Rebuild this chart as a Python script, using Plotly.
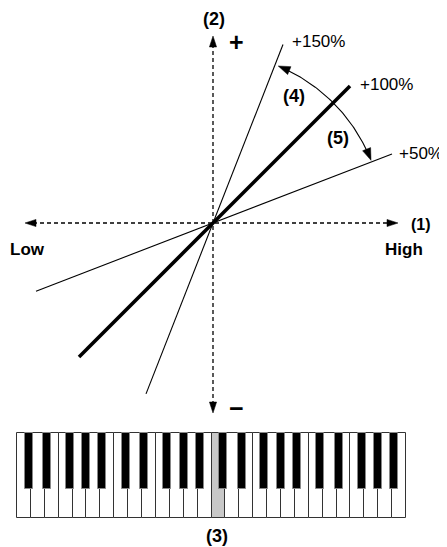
import numpy as np
import plotly.graph_objects as go

# pitch tracking lines (origin = centre of the diagram, 1 unit = 1 px, y up)
track_labels = ["+150%", "+100%", "+50%"]
track_slopes = [2.55, 1.0, 0.385]
track_x_lo = [-67, -134, -177]
track_x_hi = [70, 137, 179]
track_widths = [1.1, 3.6, 1.1]

# keyboard: 4 octaves of white keys, black key offsets from the key boundary
white_notes = list("CDEFGAB") * 4
black_after = [1, 2, 4, 5, 6]          # black key sits after these white keys (per octave)
black_shift = [-2.3, 2.3, -2.7, 0.0, 2.0]
highlight_key = 14                      # middle C

KB_LEFT, KB_TOP, KB_BOTTOM, BLACK_BOTTOM = -196, -210, -295, -266
WHITE_W = 389 / 28
BLACK_W = 8

fig = go.Figure()

# dashed axes
fig.add_trace(go.Scatter(x=[-180, 178], y=[0, 0], mode="lines",
                         line=dict(color="black", width=1.3, dash="4px,3px")))
fig.add_trace(go.Scatter(x=[0, 0], y=[179, -182], mode="lines",
                         line=dict(color="black", width=1.3, dash="4px,3px")))


def arrowhead(tip, direction, length=11, half=3.6):
    d = np.array(direction, float)
    d /= np.linalg.norm(d)
    n = np.array([-d[1], d[0]])
    t = np.array(tip, float)
    base = t - length * d
    pts = [t, base + half * n, base - half * n, t]
    fig.add_trace(go.Scatter(x=[p[0] for p in pts], y=[p[1] for p in pts], mode="lines",
                             fill="toself", fillcolor="black", line=dict(color="black", width=0.5)))


arrowhead((-188, 0), (-1, 0))
arrowhead((185, 0), (1, 0))
arrowhead((0, 187), (0, 1))
arrowhead((0, -190), (0, -1))

# tracking lines
for lab, s, lo, hi, w in zip(track_labels, track_slopes, track_x_lo, track_x_hi, track_widths):
    fig.add_trace(go.Scatter(x=[lo, hi], y=[s * lo, s * hi], mode="lines",
                             line=dict(color="black", width=w)))

# double-headed arc between +150% and +50%
R = 170
a0 = np.arctan(track_slopes[0]) - 0.02
a1 = np.arctan(track_slopes[2]) + 0.01
ang = np.linspace(a0 - 0.05, a1 + 0.05, 60)
fig.add_trace(go.Scatter(x=R * np.cos(ang), y=R * np.sin(ang), mode="lines",
                         line=dict(color="black", width=1.1)))
arrowhead((R * np.cos(a0), R * np.sin(a0)), (-np.sin(a0), np.cos(a0)), 12, 4.3)
arrowhead((R * np.cos(a1), R * np.sin(a1)), (np.sin(a1), -np.cos(a1)), 12, 4.3)

# keyboard
wx = [KB_LEFT + WHITE_W * (i + 0.5) for i in range(len(white_notes))]
wcol = ["#c8c8c8" if i == highlight_key else "white" for i in range(len(white_notes))]
fig.add_trace(go.Bar(x=wx, y=[KB_TOP - KB_BOTTOM] * len(wx), base=[KB_BOTTOM] * len(wx),
                     width=[WHITE_W] * len(wx), marker=dict(color=wcol, line=dict(color="#333", width=1))))
bx = []
for octave in range(4):
    for k, sh in zip(black_after, black_shift):
        bx.append(KB_LEFT + WHITE_W * (octave * 7 + k) + sh)
fig.add_trace(go.Bar(x=bx, y=[KB_TOP - BLACK_BOTTOM] * len(bx), base=[BLACK_BOTTOM] * len(bx),
                     width=[BLACK_W] * len(bx), marker=dict(color="black", line=dict(color="#888", width=1))))

FONT = "Liberation Sans"


def label(x, y, text, size=18, bold=True, xanchor="center"):
    fig.add_annotation(x=x, y=y, text=f"<b>{text}</b>" if bold else text, showarrow=False,
                       xanchor=xanchor, yanchor="middle",
                       font=dict(family=FONT, size=size, color="black"))


label(1, 204, "(2)")
label(23, 181, "+", size=25)
label(23, -185, "−", size=25)
label(208, -1, "(1)", size=16)
label(-186, -26, "Low", size=17)
label(191, -26, "High", size=17)
label(4, -313, "(3)")
label(81, 127, "(4)")
label(125, 85, "(5)")
label(77, 182, "+150%", size=17, bold=False, xanchor="left")
label(145, 139, "+100%", size=17, bold=False, xanchor="left")
label(184, 70, "+50%", size=17, bold=False, xanchor="left")

# the page body has an 8px margin, so shift the ranges to keep the centre at (213, 223)
fig.update_layout(width=447, height=547, autosize=False, margin=dict(l=0, r=0, t=0, b=0),
                  paper_bgcolor="white", plot_bgcolor="white", showlegend=False,
                  barmode="overlay", bargap=0, hovermode=False)
fig.update_xaxes(range=[-205, 242], visible=False, fixedrange=True)
fig.update_yaxes(range=[-332, 215], visible=False, fixedrange=True)

fig.write_html("out.html")
